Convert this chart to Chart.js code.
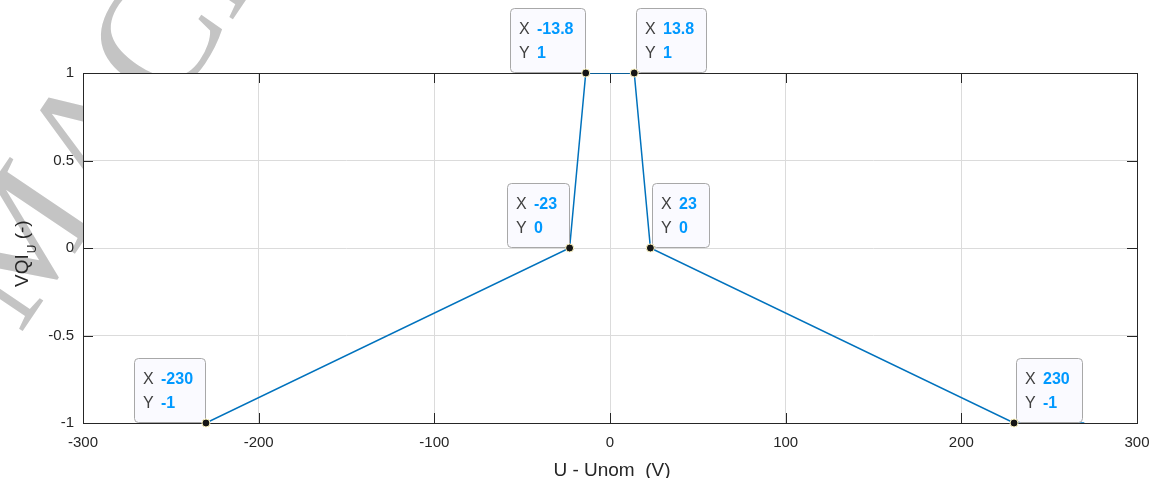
<!DOCTYPE html>
<html>
<head>
<meta charset="utf-8">
<script src="https://cdn.jsdelivr.net/npm/chart.js@4"></script>
<style>
  html, body { margin: 0; padding: 0; background: #fff; }
  #wrap { width: 1158px; height: 478px; }
</style>
</head>
<body>
<div id="wrap"><canvas id="myChart" width="1158" height="478"></canvas></div>
<script>
// curve points (U - Unom, VQI_U)
let x_values = [-230, -23, -13.8, 13.8, 23, 230, 270];
let y_values = [-1, 0, 1, 1, 0, -1, -1];

// data tips shown on the plot
let tip_x = [-13.8, 13.8, -23, 23, -230, 230];
let tip_y = [1, 1, 0, 0, -1, -1];

let x_ticks = [-300, -200, -100, 0, 100, 200, 300];
let y_ticks = [-1, -0.5, 0, 0.5, 1];

let axis_colour = '#262626';
let line_colour = '#0072bd';

// background, watermark, white plot box, box border + inward ticks
const boxPlugin = {
  id: 'box',
  beforeDraw(chart) {
    const ctx = chart.ctx;
    const a = chart.chartArea;
    ctx.save();
    ctx.fillStyle = '#fff';
    ctx.fillRect(0, 0, chart.width, chart.height);
    // watermark
    ctx.translate(20, 335);
    ctx.rotate(-56 * Math.PI / 180);
    ctx.font = '165px "Liberation Serif"';
    ctx.fillStyle = '#c4c4c4';
    ctx.textBaseline = 'alphabetic';
    ctx.fillText('MACL', 0, 0);
    ctx.restore();
    ctx.save();
    ctx.fillStyle = '#fff';
    ctx.fillRect(a.left, a.top, a.right - a.left, a.bottom - a.top);
    ctx.restore();
  },
  beforeDatasetsDraw(chart) {
    const ctx = chart.ctx;
    const a = chart.chartArea;
    const xs = chart.scales.x, ys = chart.scales.y;
    ctx.save();
    ctx.strokeStyle = axis_colour;
    ctx.lineWidth = 1;
    ctx.strokeRect(Math.round(a.left) + 0.5, Math.round(a.top) + 0.5,
      Math.round(a.right - a.left), Math.round(a.bottom - a.top));
    ctx.beginPath();
    x_ticks.forEach(v => {
      const px = Math.round(xs.getPixelForValue(v)) + 0.5;
      ctx.moveTo(px, a.bottom); ctx.lineTo(px, a.bottom - 10);
      ctx.moveTo(px, a.top); ctx.lineTo(px, a.top + 10);
    });
    y_ticks.forEach(v => {
      const py = Math.round(ys.getPixelForValue(v)) + 0.5;
      ctx.moveTo(a.left, py); ctx.lineTo(a.left + 10, py);
      ctx.moveTo(a.right, py); ctx.lineTo(a.right - 10, py);
    });
    ctx.stroke();
    ctx.restore();
  },
  afterDraw(chart) {
    const ctx = chart.ctx;
    const xs = chart.scales.x, ys = chart.scales.y;

    // data tips
    for (let i = 0; i < tip_x.length; i++) {
      const px = xs.getPixelForValue(tip_x[i]);
      const py = ys.getPixelForValue(tip_y[i]);
      const xv = String(tip_x[i]);
      const yv = String(tip_y[i]);
      ctx.save();
      ctx.font = 'bold 16px "Liberation Sans"';
      const w = Math.max(ctx.measureText(xv).width, ctx.measureText(yv).width);
      const bw = Math.round(9 + 18 + w + 12);
      const bh = 64;
      const bx = tip_x[i] < 0 ? Math.round(px) - 1 - bw : Math.round(px) + 2;
      const by = Math.round(py) - 1 - bh;
      ctx.beginPath();
      ctx.roundRect(bx + 0.5, by + 0.5, bw, bh, 4);
      ctx.fillStyle = '#fafaff';
      ctx.fill();
      ctx.strokeStyle = '#a8a8a8';
      ctx.lineWidth = 1;
      ctx.stroke();
      ctx.textBaseline = 'middle';
      ctx.textAlign = 'left';
      ctx.font = '16px "Liberation Sans"';
      ctx.fillStyle = '#404040';
      ctx.fillText('X', bx + 9, by + 22);
      ctx.fillText('Y', bx + 9, by + 46);
      ctx.font = 'bold 16px "Liberation Sans"';
      ctx.fillStyle = '#0099ff';
      ctx.fillText(xv, bx + 27, by + 22);
      ctx.fillText(yv, bx + 27, by + 46);
      // marker
      ctx.beginPath();
      ctx.arc(px, py, 4, 0, Math.PI * 2);
      ctx.fillStyle = '#151515';
      ctx.fill();
      ctx.strokeStyle = '#fff6c0';
      ctx.lineWidth = 1;
      ctx.stroke();
      ctx.restore();
    }

    // axis titles
    ctx.save();
    ctx.fillStyle = axis_colour;
    ctx.textBaseline = 'alphabetic';
    ctx.textAlign = 'center';
    ctx.font = '19px "Liberation Sans"';
    ctx.fillText('U - Unom  (V)', 612, 476);
    ctx.restore();

    ctx.save();
    ctx.fillStyle = axis_colour;
    ctx.textBaseline = 'alphabetic';
    ctx.textAlign = 'left';
    ctx.translate(28, 287);
    ctx.rotate(-Math.PI / 2);
    ctx.font = '19px "Liberation Sans"';
    ctx.fillText('VQI', 0, 0);
    let off = ctx.measureText('VQI').width + 1;
    ctx.font = '12px "Liberation Sans"';
    ctx.fillText('U', off, 8);
    off += ctx.measureText('U').width;
    ctx.font = '19px "Liberation Sans"';
    ctx.fillText(' (-)', off, 0);
    ctx.restore();
  }
};

let points = x_values.map((v, i) => ({ x: v, y: y_values[i] }));

let ctx = document.getElementById('myChart').getContext('2d');
let mychart = new Chart(ctx, {
  type: 'line',
  data: {
    datasets: [
      {
        label: 'VQI_U',
        data: points,
        borderColor: line_colour,
        borderWidth: 1.5,
        pointRadius: 0,
        fill: false,
        tension: 0
      }
    ]
  },
  options: {
    responsive: false,
    animation: false,
    layout: { padding: { top: 73, right: 21, left: 0, bottom: 0 } },
    plugins: {
      legend: { display: false },
      tooltip: { enabled: false }
    },
    scales: {
      x: {
        type: 'linear',
        min: -300,
        max: 300,
        afterBuildTicks: s => { s.ticks = x_ticks.map(v => ({ value: v })); },
        afterFit: s => { s.height = 55; s.paddingLeft = 0; s.paddingRight = 0; },
        grid: { color: '#dbdbdb', drawTicks: false },
        border: { display: false },
        ticks: {
          color: axis_colour,
          font: { family: 'Liberation Sans', size: 15 },
          padding: 11,
          maxRotation: 0,
          callback: v => String(v)
        }
      },
      y: {
        type: 'linear',
        min: -1,
        max: 1,
        afterBuildTicks: s => { s.ticks = y_ticks.map(v => ({ value: v })); },
        afterFit: s => { s.width = 83; s.paddingTop = 0; s.paddingBottom = 0; },
        grid: { color: '#dbdbdb', drawTicks: false },
        border: { display: false },
        ticks: {
          color: axis_colour,
          font: { family: 'Liberation Sans', size: 15 },
          padding: 9,
          callback: v => String(v)
        }
      }
    }
  },
  plugins: [boxPlugin]
});
</script>
</body>
</html>
